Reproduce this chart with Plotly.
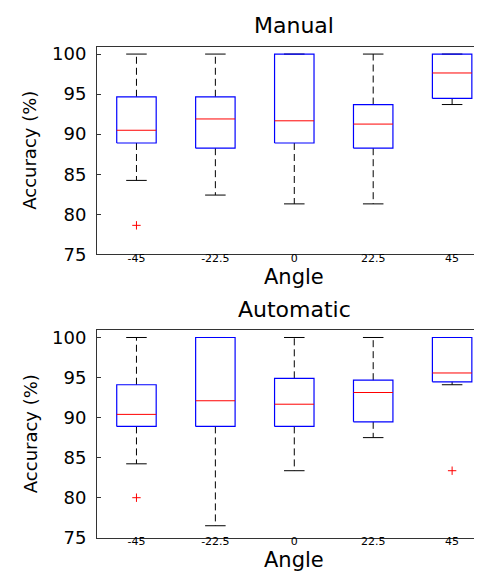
import plotly.graph_objects as go

W, H = 482, 572

angles = ["-45", "-22.5", "0", "22.5", "45"]

# Manual
man_upper = [100.0, 100.0, 100.0, 100.0, 100.0]
man_q3 = [94.67, 94.67, 100.0, 93.7, 100.0]
man_med = [90.49, 91.9, 91.67, 91.26, 97.64]
man_q1 = [88.9, 88.25, 88.9, 88.25, 94.47]
man_lower = [84.23, 82.4, 81.3, 81.3, 93.7]
man_out_x = ["-45"]
man_out_y = [78.62]

# Automatic
aut_upper = [100.0, 100.0, 100.0, 100.0, 100.0]
aut_q3 = [94.1, 100.0, 94.9, 94.67, 100.0]
aut_med = [90.4, 92.1, 91.67, 93.13, 95.57]
aut_q1 = [88.9, 88.9, 88.9, 89.47, 94.47]
aut_lower = [84.23, 76.5, 83.37, 87.5, 94.1]
aut_out_x = ["-45", "45"]
aut_out_y = [80.0, 83.37]

FONT = "DejaVu Sans"
BOX_HALF = 0.25
CAP_HALF = 0.13

fig = go.Figure()


def add_boxes(upper, q3, med, q1, lower, out_x, out_y, xa, ya):
    bx, by, mx, my, wx, wy, cx, cy = [], [], [], [], [], [], [], []
    for i in range(len(angles)):
        p = i + 1
        wx += [p, p, None, p, p, None]
        wy += [q3[i], upper[i], None, q1[i], lower[i], None]
        cx += [p - CAP_HALF, p + CAP_HALF, None, p - CAP_HALF, p + CAP_HALF, None]
        cy += [upper[i], upper[i], None, lower[i], lower[i], None]
        bx += [p - BOX_HALF, p + BOX_HALF, p + BOX_HALF, p - BOX_HALF, p - BOX_HALF, None]
        by += [q1[i], q1[i], q3[i], q3[i], q1[i], None]
        mx += [p - BOX_HALF, p + BOX_HALF, None]
        my += [med[i], med[i], None]
    common = dict(xaxis=xa, yaxis=ya, mode="lines", showlegend=False, hoverinfo="skip")
    fig.add_trace(go.Scatter(x=wx, y=wy, line=dict(color="black", width=1, dash="7px,4px"), **common))
    fig.add_trace(go.Scatter(x=cx, y=cy, line=dict(color="black", width=1), **common))
    fig.add_trace(go.Scatter(x=bx, y=by, line=dict(color="#0000ff", width=1.2), **common))
    fig.add_trace(go.Scatter(x=mx, y=my, line=dict(color="#ff0000", width=1), **common))
    ox = [angles.index(a) + 1 for a in out_x]
    fig.add_trace(go.Scatter(x=ox, y=out_y, xaxis=xa, yaxis=ya, mode="markers", showlegend=False,
                             hoverinfo="skip",
                             marker=dict(symbol="cross-thin", size=6, line=dict(color="#ff0000", width=1))))


add_boxes(man_upper, man_q3, man_med, man_q1, man_lower, man_out_x, man_out_y, "x", "y")
add_boxes(aut_upper, aut_q3, aut_med, aut_q1, aut_lower, aut_out_x, aut_out_y, "x2", "y2")
fig.add_trace(go.Scatter(x=[None], y=[None], xaxis="x", yaxis="y3", showlegend=False))
fig.add_trace(go.Scatter(x=[None], y=[None], xaxis="x2", yaxis="y4", showlegend=False))

xl, xr = 89 / W, 1.0
top_dom = [(H - 249) / H, (H - 36.7) / H]
bot_dom = [(H - 539) / H, (H - 326.7) / H]

xcommon = dict(range=[0.5, 5.48], tickvals=[1, 2, 3, 4, 5], ticktext=angles, showline=True,
               linecolor="#333333", linewidth=1, mirror=True, ticks="", ticklen=0, showgrid=False,
               zeroline=False, tickfont=dict(family=FONT, size=11, color="black"),
               ticklabelstandoff=-7, domain=[xl, xr])
ycommon = dict(range=[75, 100.9], tickvals=[75, 80, 85, 90, 95, 100], showline=True,
               linecolor="#333333", linewidth=1, ticks="inside", ticklen=4, tickcolor="#333333",
               showgrid=False, zeroline=False, ticklabelstandoff=6,
               tickfont=dict(family=FONT, size=18, color="black"))
yright = dict(range=[75, 100.9], tickvals=[75, 80, 85, 90, 95, 100], side="right",
              showline=False, ticks="inside", ticklen=4, tickcolor="#333333",
              showticklabels=False, showgrid=False, zeroline=False)

fig.update_layout(
    width=W, height=H,
    margin=dict(l=0, r=0, t=0, b=0),
    paper_bgcolor="white", plot_bgcolor="white",
    xaxis=dict(anchor="y", **xcommon),
    yaxis=dict(anchor="x", domain=top_dom, **ycommon),
    xaxis2=dict(anchor="y2", **xcommon),
    yaxis2=dict(anchor="x2", domain=bot_dom, **ycommon),
    yaxis3=dict(overlaying="y", anchor="x", **yright),
    yaxis4=dict(overlaying="y2", anchor="x2", **yright),
)

ann = []
def label(text, x, y, size, angle=0):
    ann.append(dict(text=text, x=x / W, y=1 - y / H, xref="paper", yref="paper",
                    showarrow=False, textangle=angle, xanchor="center", yanchor="middle",
                    font=dict(family=FONT, size=size, color="black")))

label("Manual", 286, 15, 22)
label("Automatic", 286, 305, 22)
label("Angle", 286, 272, 21)
label("Angle", 286, 562, 21)
label("Accuracy (%)", 22, 143, 18, -90)
label("Accuracy (%)", 22, 433, 18, -90)
fig.update_layout(annotations=ann)

fig.write_html("out.html")
